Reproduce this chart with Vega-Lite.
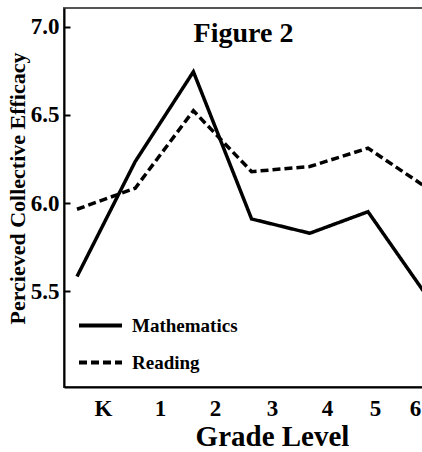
{
  "$schema": "https://vega.github.io/schema/vega-lite/v6.json",
  "width": 359,
  "height": 379,
  "autosize": {"type": "none"},
  "padding": {"left": 64, "top": 8, "right": 0, "bottom": 65},
  "background": "white",
  "config": {
    "view": {"stroke": "#555555", "strokeWidth": 2},
    "font": "Liberation Serif"
  },
  "title": {
    "text": "Figure 2",
    "font": "Liberation Serif",
    "fontSize": 28,
    "fontWeight": "bold",
    "color": "black",
    "anchor": "middle",
    "orient": "top",
    "baseline": "alphabetic",
    "offset": -35,
    "dy": 27
  },
  "data": {
    "values": [
      {"grade": 0, "subject": "Mathematics", "value": 5.585},
      {"grade": 1, "subject": "Mathematics", "value": 6.236},
      {"grade": 2, "subject": "Mathematics", "value": 6.745},
      {"grade": 3, "subject": "Mathematics", "value": 5.911},
      {"grade": 4, "subject": "Mathematics", "value": 5.83},
      {"grade": 5, "subject": "Mathematics", "value": 5.952},
      {"grade": 6, "subject": "Mathematics", "value": 5.48},
      {"grade": 0, "subject": "Reading", "value": 5.966},
      {"grade": 1, "subject": "Reading", "value": 6.085},
      {"grade": 2, "subject": "Reading", "value": 6.524},
      {"grade": 3, "subject": "Reading", "value": 6.179},
      {"grade": 4, "subject": "Reading", "value": 6.208},
      {"grade": 5, "subject": "Reading", "value": 6.312},
      {"grade": 6, "subject": "Reading", "value": 6.09}
    ]
  },
  "mark": {"type": "line", "clip": true, "strokeWidth": 3.5, "color": "black"},
  "encoding": {
    "x": {
      "field": "grade",
      "type": "quantitative",
      "scale": {"domain": [-0.2234, 5.945], "nice": false, "zero": false},
      "axis": {
        "values": [0.447, 1.426, 2.371, 3.351, 4.296, 5.12, 5.808],
        "labelExpr": "['K','1','2','3','4','5','6'][round(datum.value)]",
        "ticks": false,
        "grid": false,
        "domainColor": "black",
        "domainWidth": 2,
        "labelFont": "Liberation Serif",
        "labelFontWeight": "bold",
        "labelFontSize": 23,
        "labelColor": "black",
        "labelPadding": 10,
        "labelFlush": false,
        "labelOverlap": false,
        "labelBound": false,
        "title": "Grade Level",
        "titleFont": "Liberation Serif",
        "titleFontWeight": "bold",
        "titleFontSize": 29,
        "titleColor": "black",
        "titleX": 208,
        "titleY": 58,
        "titleAlign": "center",
        "titleBaseline": "alphabetic"
      }
    },
    "y": {
      "field": "value",
      "type": "quantitative",
      "scale": {"domain": [4.959, 7.106], "nice": false, "zero": false},
      "axis": {
        "values": [5.5, 6, 6.5, 7],
        "format": ".1f",
        "grid": false,
        "domainColor": "black",
        "domainWidth": 2,
        "tickColor": "black",
        "tickWidth": 2,
        "tickSize": -6,
        "labelFont": "Liberation Serif",
        "labelFontWeight": "bold",
        "labelFontSize": 23,
        "labelColor": "black",
        "labelPadding": 11,
        "title": "Percieved Collective Efficacy",
        "titleFont": "Liberation Serif",
        "titleFontWeight": "bold",
        "titleFontSize": 22,
        "titleColor": "black",
        "titleAngle": -90,
        "titleX": -47,
        "titleY": 180,
        "titleAlign": "center",
        "titleBaseline": "middle"
      }
    },
    "strokeDash": {
      "field": "subject",
      "type": "nominal",
      "scale": {"domain": ["Mathematics", "Reading"], "range": [[1, 0], [8, 4]]},
      "legend": {
        "orient": "none",
        "legendX": 13,
        "legendY": 294,
        "title": null,
        "symbolType": "stroke",
        "symbolSize": 1849,
        "symbolStrokeWidth": 4,
        "symbolStrokeColor": "black",
        "labelFont": "Liberation Serif",
        "labelFontWeight": "bold",
        "labelFontSize": 19,
        "labelColor": "black",
        "labelOffset": 8,
        "rowPadding": 3
      }
    }
  }
}
